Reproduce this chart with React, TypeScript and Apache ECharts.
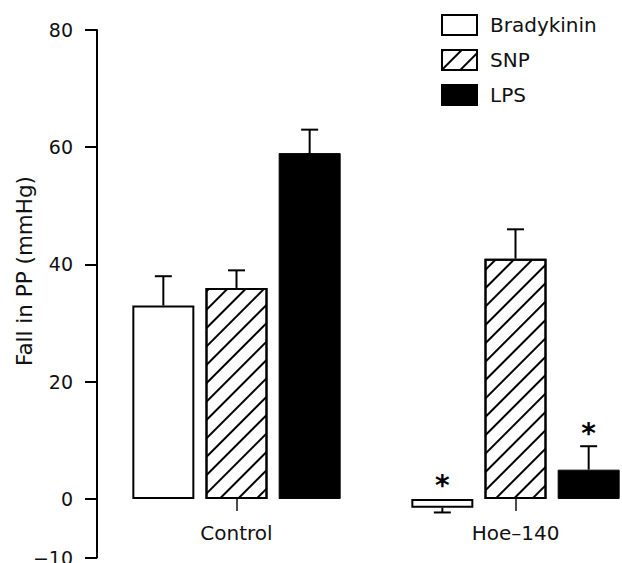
import React, { useEffect, useRef } from "react";
import * as echarts from "echarts";

const categories = ["Control", "Hoe–140"];
const seriesNames = ["Bradykinin", "SNP", "LPS"];
const bradykinin = [33, -1.5];
const snp = [36, 41];
const lps = [59, 5];
const bradykininErr = [38, -2.3];
const snpErr = [39, 46];
const lpsErr = [63, 9];
const bradykininSig = [false, true];
const snpSig = [false, false];
const lpsSig = [false, true];
const yTicks = [-10, 0, 20, 40, 60, 80];
const yMin = -10;
const yMax = 80;
const yName = "Fall in PP (mmHg)";

const BAR_WIDTH = 62;
const BAR_GAP = 0.18;
const FONT = "DejaVu Sans";
const GRID_TOP = 30;
const GRID_BOTTOM = 5.4;
const H = 563;

export default function App() {
  const ref = useRef<HTMLDivElement>(null);
  useEffect(() => {
    const chart = echarts.init(ref.current!, null, { renderer: "svg" });
    const values = [bradykinin, snp, lps];
    const errs = [bradykininErr, snpErr, lpsErr];
    const sigs = [bradykininSig, snpSig, lpsSig];
    const errData: number[][] = [];
    for (let s = 0; s < 3; s++) {
      for (let c = 0; c < categories.length; c++) {
        errData.push([c, values[s][c], errs[s][c], s, sigs[s][c] ? 1 : 0]);
      }
    }
    const gridH = H - GRID_TOP - GRID_BOTTOM;
    const zeroOffset = -(gridH * (0 - yMin)) / (yMax - yMin);
    const styles = [
      { color: "#fff", borderColor: "#000", borderWidth: 2 },
      {
        color: "#fff",
        borderColor: "#000",
        borderWidth: 2,
        decal: {
          symbol: "rect",
          symbolSize: 1,
          dashArrayX: [1, 0],
          dashArrayY: [1.5, 10.5],
          rotation: -Math.PI / 4,
          color: "#000",
        },
      },
      { color: "#000", borderColor: "#000", borderWidth: 1 },
    ];
    chart.setOption({
      animation: false,
      grid: {
        left: 97,
        top: GRID_TOP,
        width: 558,
        bottom: GRID_BOTTOM,
        containLabel: false,
        outerBoundsMode: "none",
      },
      legend: {
        orient: "vertical",
        left: 441,
        top: 14,
        padding: 0,
        itemWidth: 35,
        itemHeight: 20,
        itemGap: 13,
        icon: "rect",
        data: seriesNames,
        textStyle: { fontFamily: FONT, fontSize: 20, lineHeight: 20, color: "#111", padding: [0, 0, 0, 8] },
      },
      xAxis: {
        type: "category",
        data: categories,
        position: "bottom",
        offset: zeroOffset,
        axisLine: { show: false, onZero: false },
        axisTick: { show: true, alignWithLabel: true, length: 12, lineStyle: { color: "#111", width: 1.5 } },
        axisLabel: { margin: 24, fontFamily: FONT, fontSize: 20, color: "#111" },
        splitLine: { show: false },
      },
      yAxis: {
        type: "value",
        min: yMin,
        max: yMax,
        axisLine: { show: true, lineStyle: { color: "#000", width: 2 } },
        axisTick: { show: true, length: 12, customValues: yTicks, lineStyle: { color: "#000", width: 2 } },
        axisLabel: {
          customValues: yTicks,
          margin: 24,
          fontFamily: FONT,
          fontSize: 19,
          color: "#111",
          formatter: (v: number) => (v < 0 ? "−" + Math.abs(v) : String(v)),
        },
        splitLine: { show: false },
      },
      graphic: [
        {
          type: "text",
          x: 24,
          y: 271,
          rotation: Math.PI / 2,
          style: {
            text: yName,
            fontFamily: FONT,
            fontSize: 21.5,
            fill: "#111",
            align: "center",
            verticalAlign: "middle",
          },
        },
      ],
      series: [
        ...seriesNames.map((name, i) => ({
          name,
          type: "bar",
          data: values[i],
          barWidth: BAR_WIDTH,
          barGap: BAR_GAP * 100 + "%",
          itemStyle: styles[i],
          z: 2,
        })),
        {
          type: "custom",
          name: "errors",
          data: errData,
          encode: { x: 0, y: [1, 2] },
          z: 5,
          silent: true,
          renderItem: (params: any, api: any) => {
            const c = api.value(0);
            const v = api.value(1);
            const e = api.value(2);
            const s = api.value(3);
            const sig = api.value(4);
            const off = (s - 1) * BAR_WIDTH * (1 + BAR_GAP);
            const p0 = api.coord([c, v]);
            const p1 = api.coord([c, e]);
            const pz = api.coord([c, 0]);
            const x = p0[0] + off;
            const children: any[] = [
              {
                type: "line",
                shape: { x1: x, y1: p0[1], x2: x, y2: p1[1] },
                style: { stroke: "#000", lineWidth: 2 },
              },
              {
                type: "line",
                shape: { x1: x - 8.5, y1: p1[1], x2: x + 8.5, y2: p1[1] },
                style: { stroke: "#000", lineWidth: 2 },
              },
            ];
            if (sig) {
              const top = Math.min(p0[1], p1[1], pz[1]);
              children.push({
                type: "text",
                x,
                y: top + 1,
                style: {
                  text: "*",
                  fontFamily: FONT,
                  fontWeight: "bold",
                  fontSize: 28,
                  fill: "#000",
                  align: "center",
                  verticalAlign: "bottom",
                },
              });
            }
            return { type: "group", children };
          },
        },
      ],
    });
    return () => chart.dispose();
  }, []);
  return (
    <div
      ref={ref}
      style={{ position: "fixed", left: 0, top: 0, width: 622, height: 563, background: "#fff" }}
    />
  );
}
